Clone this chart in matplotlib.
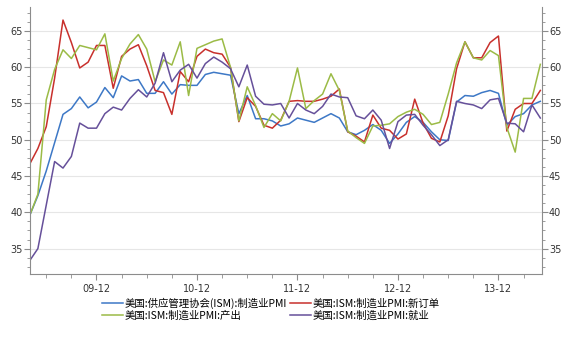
import matplotlib
matplotlib.use("Agg")
import matplotlib.pyplot as plt
from matplotlib.ticker import FixedLocator, MultipleLocator
import pandas as pd

# monthly data, 2009-04 .. 2014-05
months = pd.date_range("2009-04-01", periods=62, freq="MS")

pmi = [
    39.5, 42.3, 45.7, 49.6, 53.5, 54.3, 55.9, 54.4, 55.2,
    57.2, 55.8, 58.8, 58.1, 58.3, 56.4, 56.4, 58.0, 56.3, 57.6, 57.5, 57.5,
    59.0, 59.3, 59.1, 58.9, 53.6, 56.1, 52.9, 52.9, 52.6, 51.9, 52.2, 53.0,
    52.7, 52.4, 53.0, 53.6, 53.0, 51.1, 50.7, 51.3, 52.1, 51.3, 49.5, 50.8,
    52.4, 53.2, 52.4, 51.1, 50.0, 49.9, 55.2, 56.1, 56.0, 56.5, 56.8, 56.4,
    52.0, 53.2, 53.6, 54.8, 55.3,
]
new_orders = [
    46.6, 48.8, 51.8, 58.5, 66.5, 63.4, 59.9, 60.7, 63.0,
    63.0, 57.1, 61.5, 62.5, 63.1, 60.2, 56.8, 56.5, 53.5, 59.4, 58.0, 61.5,
    62.5, 62.0, 61.8, 60.0, 52.5, 55.8, 54.6, 52.0, 51.6, 52.7, 55.3, 55.4,
    55.3, 55.3, 55.6, 56.0, 57.0, 51.1, 50.5, 49.7, 53.4, 51.6, 51.3, 50.1,
    50.8, 55.6, 52.3, 50.2, 49.7, 53.3, 59.8, 63.5, 61.3, 61.3, 63.4, 64.3,
    51.2, 54.2, 55.0, 55.0, 56.8,
]
production = [
    39.5, 42.5, 55.5, 59.7, 62.4, 61.2, 63.0, 62.7, 62.4,
    64.6, 58.1, 61.2, 63.2, 64.5, 62.5, 58.0, 61.0, 60.3, 63.5, 56.1, 62.6,
    63.1, 63.6, 63.9, 60.0, 52.6, 57.3, 54.7, 51.7, 53.6, 52.6, 55.3, 59.9,
    54.3, 55.4, 56.3, 59.1, 56.8, 51.2, 50.3, 49.5, 51.9, 52.0, 52.2, 53.2,
    53.8, 54.2, 53.5, 52.1, 52.4, 56.3, 60.6, 63.5, 61.3, 61.0, 62.3, 61.6,
    51.7, 48.3, 55.7, 55.7, 60.4,
]
employment = [
    33.3, 35.0, 41.0, 47.0, 46.1, 47.7, 52.3, 51.6, 51.6,
    53.6, 54.5, 54.1, 55.7, 56.9, 55.9, 57.8, 62.0, 58.0, 59.6, 60.4, 58.5,
    60.5, 61.4, 60.7, 59.8, 57.3, 60.3, 56.0, 54.9, 54.8, 55.0, 53.0, 55.0,
    54.1, 53.6, 54.6, 56.3, 55.9, 55.8, 53.3, 52.9, 54.1, 52.7, 48.8, 52.5,
    53.4, 53.5, 52.0, 50.7, 49.2, 50.0, 55.3, 55.0, 54.8, 54.3, 55.5, 55.7,
    52.3, 52.2, 51.1, 54.8, 53.0,
]

series_labels = [
    "美国:供应管理协会(ISM):制造业PMI",
    "美国:ISM:制造业PMI:新订单",
    "美国:ISM:制造业PMI:产出",
    "美国:ISM:制造业PMI:就业",
]
series_colors = ["#3d78c6", "#c8302c", "#9bbb46", "#66509a"]

fig = plt.figure(figsize=(5.65, 3.53), dpi=100)
ax = fig.add_axes([29.5 / 565, 79 / 353, (542 - 29.5) / 565, (346 - 79) / 353])

x = list(range(len(months)))
lines = []
for values, label, color in zip(
    [pmi, new_orders, production, employment], series_labels, series_colors
):
    (line,) = ax.plot(x, values, color=color, linewidth=1.1, label=label)
    lines.append(line)

ax.set_xlim(0, len(months) - 1 + 0.2)
ax.set_ylim(31.5, 68.3)

major_x = [i for i, m in enumerate(months) if m.month == 12]
minor_x = [i for i, m in enumerate(months) if m.month in (3, 6, 9)]
ax.xaxis.set_major_locator(FixedLocator(major_x))
ax.xaxis.set_minor_locator(FixedLocator(minor_x))
ax.set_xticklabels([months[i].strftime("%y-%m") for i in major_x])

ax.yaxis.set_major_locator(MultipleLocator(5))
ax.yaxis.set_minor_locator(MultipleLocator(1.25))
ax.grid(axis="y", which="major", color="#e6e6e6", linewidth=0.8)
ax.set_axisbelow(True)

for side in ("left", "right", "bottom"):
    ax.spines[side].set_color("#8c8c8c")
ax.spines["top"].set_visible(False)

ax.tick_params(axis="both", which="both", colors="#8c8c8c", labelcolor="#333333",
               labelsize=7)
ax.tick_params(axis="y", which="both", left=True, right=True,
               labelleft=True, labelright=True)
ax.tick_params(axis="y", which="major", length=4, pad=1)
ax.tick_params(axis="y", which="minor", length=2.5)
ax.tick_params(axis="x", which="major", length=4, pad=3)
ax.tick_params(axis="x", which="minor", length=3)

order = [0, 2, 1, 3]
fig.legend(
    [lines[i] for i in order],
    [series_labels[i] for i in order],
    loc="upper left",
    bbox_to_anchor=(97 / 565, 1 - 292 / 353),
    ncol=2,
    frameon=False,
    handlelength=2.0,
    handletextpad=0.15,
    columnspacing=0.3,
    labelspacing=0.2,
    borderpad=0,
    prop={"family": ["Noto Sans CJK SC", "DejaVu Sans"], "size": 7.5},
)

fig.savefig("out.png", dpi=100)
